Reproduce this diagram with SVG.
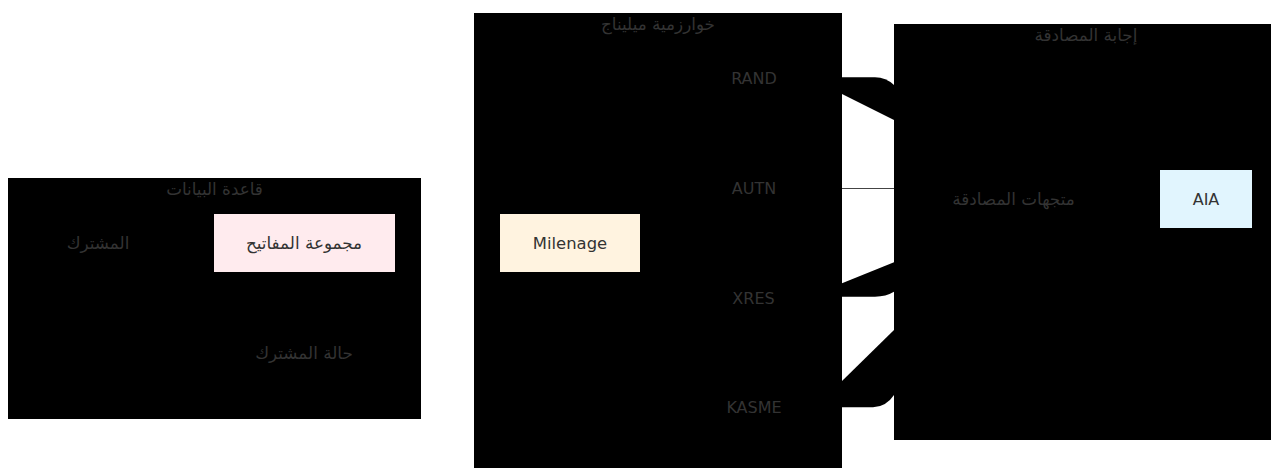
<svg xmlns="http://www.w3.org/2000/svg" width="1271" height="468" viewBox="0 0 1271 468">
  <style>
    .cluster { fill: #000000; stroke: none; }
    .node-dark { fill: #000000; stroke: none; }
    .lbl { font-family: "DejaVu Sans", "Noto Sans", sans-serif; font-size: 16px; fill: #333333; text-anchor: middle; }
    .ar { font-size: 16.8px; }
    .edge-fill { fill: #000000; stroke: none; }
    .edge-line { fill: none; stroke: #444444; stroke-width: 1; }
  </style>
  <rect x="0" y="0" width="1271" height="468" fill="#ffffff"/>

  <!-- Cluster: database -->
  <g id="cluster-database">
    <rect class="cluster" x="8" y="178" width="413" height="241"/>
    <text class="lbl ar" x="214.5" y="195">قاعدة البيانات</text>
  </g>
  <!-- Cluster: milenage algorithm -->
  <g id="cluster-milenage">
    <rect class="cluster" x="474" y="13" width="368" height="462"/>
    <text class="lbl ar" x="658" y="30">خوارزمية ميليناج</text>
  </g>
  <!-- Cluster: authentication response -->
  <g id="cluster-response">
    <rect class="cluster" x="894" y="24" width="384" height="416"/>
    <text class="lbl ar" x="1086" y="41">إجابة المصادقة</text>
  </g>

  <!-- Connectors -->
  <g id="connectors">
    <path id="edge-rand" class="edge-fill" d="M 842 77.3 L 875 77.3 Q 886 77.5 894 85 L 894 120 L 842 94 Z"/>
    <path id="edge-autn" class="edge-line" d="M 842 188.5 L 894 188.5"/>
    <path id="edge-xres" class="edge-fill" d="M 842 296.7 L 875 296.7 Q 886 296.5 894 291.7 L 894 262.3 L 842 283.3 Z"/>
    <path id="edge-kasme" class="edge-fill" d="M 842 407.3 L 873 407.3 Q 886 407 894 395 L 894 330 L 842 381 Z"/>
  </g>

  <!-- Nodes -->
  <g id="node-subscriber">
    <rect class="node-dark" x="39" y="214" width="118" height="58"/>
    <text class="lbl ar" x="98" y="248.5">المشترك</text>
  </g>
  <g id="node-keyset">
    <rect x="214" y="214" width="181" height="58" fill="#ffebee"/>
    <text class="lbl ar" x="304" y="248.5">مجموعة المفاتيح</text>
  </g>
  <g id="node-substate">
    <rect class="node-dark" x="226" y="324" width="157" height="58"/>
    <text class="lbl ar" x="304" y="358.5">حالة المشترك</text>
  </g>
  <g id="node-milenage">
    <rect x="500" y="214" width="140" height="58" fill="#fff3e0"/>
    <text class="lbl" x="570" y="248.5" style="font-size:16.4px">Milenage</text>
  </g>
  <g id="node-rand">
    <rect class="node-dark" x="701" y="49" width="106" height="58"/>
    <text class="lbl" x="754" y="84">RAND</text>
  </g>
  <g id="node-autn">
    <rect class="node-dark" x="701" y="159" width="106" height="58"/>
    <text class="lbl" x="754" y="193.5">AUTN</text>
  </g>
  <g id="node-xres">
    <rect class="node-dark" x="701" y="269" width="106" height="58"/>
    <text class="lbl" x="753.5" y="303.5">XRES</text>
  </g>
  <g id="node-kasme">
    <rect class="node-dark" x="701" y="378" width="106" height="58"/>
    <text class="lbl" x="754" y="413">KASME</text>
  </g>
  <g id="node-vectors">
    <rect class="node-dark" x="923" y="170" width="180" height="58"/>
    <text class="lbl ar" x="1013.5" y="204.5">متجهات المصادقة</text>
  </g>
  <g id="node-aia">
    <rect x="1160" y="170" width="92" height="58" fill="#e1f5fe"/>
    <text class="lbl" x="1206" y="205">AIA</text>
  </g>
</svg>
